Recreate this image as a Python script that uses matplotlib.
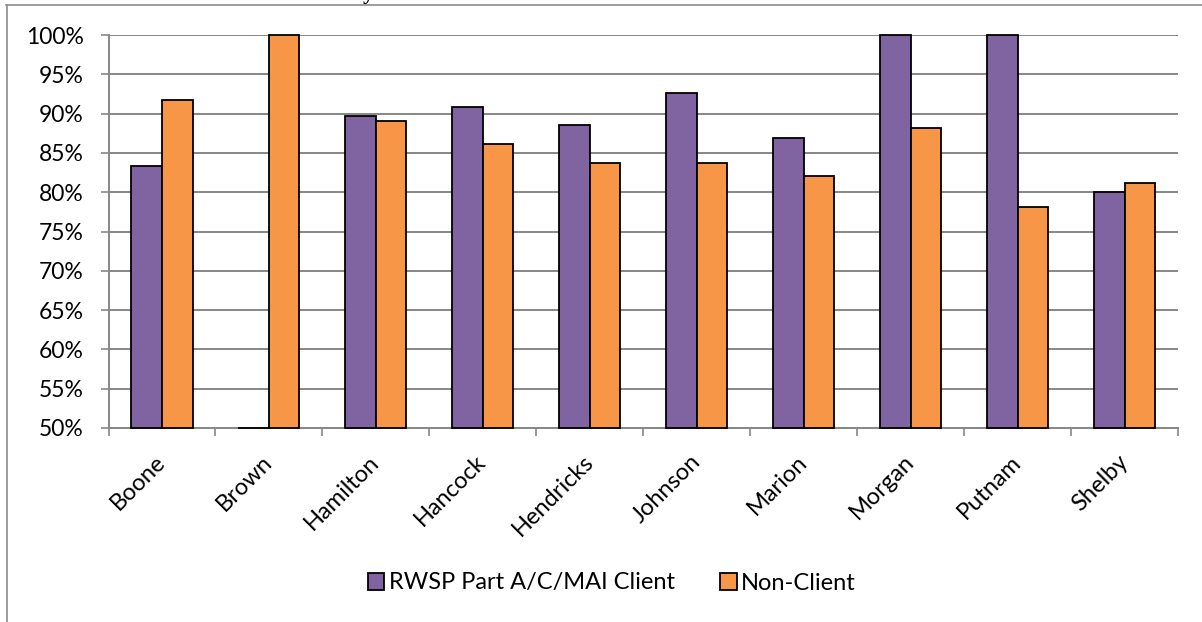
import numpy as np
import matplotlib
matplotlib.use("Agg")
import matplotlib.pyplot as plt
from matplotlib.lines import Line2D
from matplotlib.patches import Patch

# County-level rates (percent)
counties = ["Boone", "Brown", "Hamilton", "Hancock", "Hendricks",
            "Johnson", "Marion", "Morgan", "Putnam", "Shelby"]
client_pct = [83.3, 0.0, 89.7, 90.9, 88.5, 92.6, 86.9, 100.0, 100.0, 80.0]
nonclient_pct = [91.7, 100.0, 89.0, 86.1, 83.7, 83.7, 82.0, 88.2, 78.1, 81.2]
series_names = ["RWSP Part A/C/MAI Client", "Non-Client"]
y_ticks = [50, 55, 60, 65, 70, 75, 80, 85, 90, 95, 100]

PURPLE = "#8064A2"
ORANGE = "#F79646"
GRID = "#878787"
FONT = ["Lato", "DejaVu Sans"]

plt.rcParams["font.family"] = FONT

W, H = 1202, 622
fig = plt.figure(figsize=(W / 100, H / 100), dpi=100)

# axes box in pixel coordinates
x0, x1, y_top, y_bot = 108.5, 1178, 35, 428
ax = fig.add_axes([x0 / W, 1 - y_bot / H, (x1 - x0) / W, (y_bot - y_top) / H])

floor, ceil = y_ticks[0], y_ticks[-1]
x = np.arange(len(counties))
bw = 1 / 3.5  # Excel gap width 150%

# bars start at the axis floor; values below it collapse onto the axis
for vals, off, col in [(client_pct, -bw / 2, PURPLE), (nonclient_pct, bw / 2, ORANGE)]:
    v = np.asarray(vals, dtype=float)
    heights = np.maximum(v, floor) - floor
    ax.bar(x + off, heights, width=bw, bottom=floor, color=col,
           edgecolor="black", linewidth=1.3, zorder=3, clip_on=False)

ax.set_xlim(-0.5, len(counties) - 0.5)
ax.set_ylim(floor, ceil)
ax.set_yticks(y_ticks)
ax.set_yticklabels([f"{t}%" for t in y_ticks], fontsize=16.5)
ax.yaxis.grid(True, color=GRID, linewidth=1.4)
ax.set_axisbelow(True)

ax.set_xticks(x)
ax.set_xticklabels(counties, fontsize=17, rotation=45, ha="right",
                   va="center", rotation_mode="anchor")
ax.set_xticks(np.arange(-0.5, len(counties)), minor=True)
ax.tick_params(axis="x", which="major", length=0, pad=22)
ax.tick_params(axis="x", which="minor", length=6, width=1.2, color=GRID)
ax.tick_params(axis="y", length=6, width=1.2, color=GRID, pad=12)

for s in ["top", "right"]:
    ax.spines[s].set_visible(False)
for s in ["left", "bottom"]:
    ax.spines[s].set_color(GRID)
    ax.spines[s].set_linewidth(1.4)

# legend
handles = [Patch(facecolor=PURPLE, edgecolor="black", linewidth=1.3),
           Patch(facecolor=ORANGE, edgecolor="black", linewidth=1.3)]
fig.legend(handles, series_names, loc="center", ncol=2, frameon=False,
           bbox_to_anchor=(612 / W, 1 - 583 / H), fontsize=17,
           handlelength=0.7, handleheight=0.7, handletextpad=0.2,
           columnspacing=1.9)

# outer chart border (left and top edges)
fig.add_artist(Line2D([6.5 / W, 6.5 / W], [0, 1 - 5 / H],
                      transform=fig.transFigure, color="#8c8c8c", linewidth=1.2))
fig.add_artist(Line2D([6 / W, 1], [1 - 5 / H, 1 - 5 / H],
                      transform=fig.transFigure, color="#8c8c8c", linewidth=1.2))

# title sitting above the chart area
fig.text(368 / W, 1 + 1.5 / H, "y", ha="center", va="baseline",
         fontsize=16, family="Liberation Serif", fontweight="bold")

fig.savefig("out.png", dpi=100)
